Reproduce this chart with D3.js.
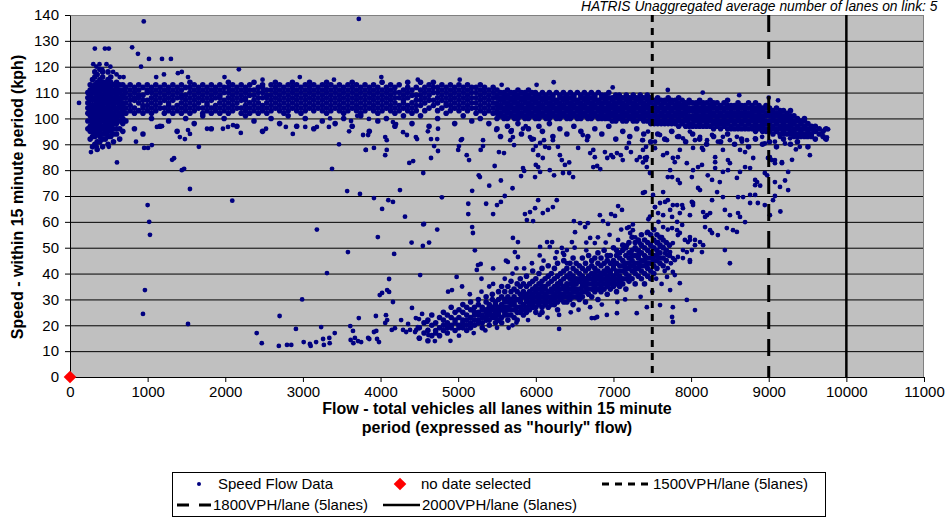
<!DOCTYPE html>
<html><head><meta charset="utf-8">
<script src="https://cdn.jsdelivr.net/npm/d3@7"></script>
<style>body{margin:0;background:#fff}svg{display:block}text{font-family:Arial,"Liberation Sans",sans-serif;fill:#000}</style>
</head><body><svg id="c" width="949" height="519"></svg>
<script>
// ---------- DATA ----------
const xTickValues = [0,1000,2000,3000,4000,5000,6000,7000,8000,9000,10000,11000];
const yTickValues = [0,10,20,30,40,50,60,70,80,90,100,110,120,130,140];
const capacityFlows = [7500, 9000, 10000];
const capacityLabels = ["1500VPH/lane (5lanes)", "1800VPH/lane (5lanes)", "2000VPH/lane (5lanes)"];
const seriesLabels = ["Speed Flow Data", "no date selected"];
const noDatePoint = [[0, 0]];
const headerText = "HATRIS Unaggregated average number of lanes on link: 5";

// free-flow band: [flow, speeds...]
const bandColumns = [
[230,96,99,102,104,106,108,110],[260,92,95,97,99,101,103,105,107,109,111,113],
[290,89,93,95,97,98,100,102,103,105,107,108,110,112,115],
[320,90,93,95,96,98,99,101,102,104,105,107,108,110,111,113,116,118],
[350,88,91,94,95,97,98,100,101,103,104,106,107,109,110,112,114,117],
[385,91,93,95,96,98,99,101,102,104,105,107,108,110,111,113,115,119],
[420,89,92,94,96,97,99,100,102,103,105,106,108,109,111,112,114,116,118],
[455,92,94,95,97,98,100,101,103,104,106,107,109,110,112,114],
[490,90,93,95,96,98,99,101,102,104,105,107,108,110,111,113,115,118],
[525,93,95,97,98,100,101,103,104,106,107,109,110,112,114,116],
[560,91,94,96,98,99,101,102,104,105,107,108,110,111,113],
[600,94,96,98,100,101,103,104,106,107,109,110,112,114],
[640,92,96,99,101,102,104,105,107,108,110,111,113],
[680,95,98,100,102,103,105,106,108,109,111,113],
[720,102,104,106,108,110,112,99],[775,103,105,107,109,111,113],[830,102,104,107,108,110,112,96],
[885,103,106,108,109,111,113],[940,102,104,105,107,109,112,94],[995,103,105,107,110,111,113],
[1050,102,104,106,108,110,112,100],[1105,103,105,107,109,111,113],[1160,104,106,108,110,112,97],
[1215,102,104,107,109,111,113],[1270,103,105,106,108,110,112,99],[1325,102,104,107,109,111,113],
[1380,103,105,108,110,112,95],[1435,102,104,106,108,109,111,113],[1490,103,105,107,109,112,100],
[1545,102,104,106,108,110,112,114],[1600,103,105,107,109,111,113,98],[1655,104,106,108,110,112],
[1710,102,104,107,109,111,113,101],[1765,103,105,106,108,110,112],[1820,102,104,107,109,111,113,96],
[1875,103,105,108,110,112],[1930,102,104,106,108,109,111,113],[1985,103,105,107,110,112,100],
[2040,102,104,106,108,110,112,114],[2095,103,105,107,109,111,113],[2150,104,106,108,110,112,97],
[2205,102,104,107,109,111,113],[2260,103,105,107,108,110,112,101],[2315,102,104,106,109,111,113],
[2370,103,105,107,109,111,114,99],[2425,102,104,106,108,110,112],[2480,103,105,108,110,112,113,95],
[2535,102,104,106,108,109,111],[2590,103,105,107,109,111,113,100],[2645,104,106,108,110,112,114],
[2700,103,105,107,109,111,113,98],[2755,102,104,106,108,110,112],[2810,103,105,107,109,111,113,101],
[2865,104,106,108,110,112,114],[2920,103,105,107,109,111,113,97],[2975,102,104,106,108,110,112],
[3030,103,105,107,109,111,113,100],[3085,104,106,108,110,112,114],[3140,103,105,107,109,111,113,96],
[3195,104,106,108,110,112],[3250,103,105,107,109,111,113,99],[3305,102,104,106,108,110,112,114],
[3360,103,105,107,109,111,113],[3415,104,106,108,110,112,98],[3470,103,105,107,109,111,113],
[3525,102,104,106,108,110,112,100],[3580,103,105,107,109,111,113],[3635,104,106,108,110,112,114,97],
[3690,103,105,107,109,111,113],[3745,102,104,106,108,110,112,101],[3800,103,105,107,109,111,113],
[3855,104,106,108,110,112,95],[3910,103,105,107,109,111,113],[3965,102,104,106,108,110,112,99],
[4020,103,105,107,109,111,114],[4075,104,106,108,110,112,100],[4130,103,105,107,109,111,113],
[4185,102,104,106,108,110,112,97],[4240,103,105,108,110,113],[4295,104,106,107,109,111,101],
[4350,103,105,108,110,112,114],[4405,102,104,106,109,111,98],[4460,103,105,107,109,112],
[4515,105,107,109,111,114,101],[4570,103,106,108,110,112],[4625,104,107,109,111,113,97],
[4680,105,107,110,112,114],[4735,103,106,108,110,112,100],[4790,104,107,109,111,113],
[4845,105,106,108,110,112,102],[4900,103,105,107,109,111,113],[4955,104,106,108,110,112,98],
[5010,103,105,107,109,111,113],[5065,104,106,108,110,112,101],[5120,103,105,107,109,111,113],
[5175,104,106,108,110,112,99],[5230,102,104,106,108,110,112],[5285,103,105,107,109,111,113,100],
[5340,102,104,106,108,110,112],[5395,103,105,107,109,111,98],[5450,102,104,106,108,110,112],
[5500,100,102,103,105,106,108,109,111,96],[5545,101,102,104,105,107,108,110,93],
[5590,100,101,103,104,106,107,109,110],[5635,100,102,103,105,106,108,109,111,97],
[5680,101,102,104,105,107,108,110,95],[5725,100,101,103,104,106,107,109,110],
[5770,100,102,103,105,106,108,109,111,98],[5815,101,102,104,105,107,108,110,94],
[5860,100,101,103,104,106,107,109,110],[5905,100,102,103,105,106,108,109,111,96],
[5950,101,102,104,105,107,108,110,92],[5995,100,101,103,104,106,107,109,110],
[6040,100,102,103,105,106,108,109,97],[6085,101,102,104,105,107,108,110,95],
[6130,100,101,103,104,106,107,109],[6175,100,102,103,105,106,108,110,98],
[6220,101,102,104,105,107,108,109,93],[6265,100,101,103,104,106,107,110],
[6310,100,102,103,105,106,108,109,96],[6355,101,102,104,105,107,108,110],
[6400,100,101,103,104,106,107,109,94],[6445,100,102,103,105,106,108,110],
[6490,101,102,104,105,107,108,109,97],[6535,100,101,103,104,106,107,110],
[6580,100,102,103,105,106,108,109,95],[6625,101,102,104,105,107,108,110],
[6670,100,101,103,104,106,107,109,93],[6715,100,102,103,105,106,108,110],
[6760,101,102,104,105,107,108,109,96],[6805,100,101,103,104,106,107,110],
[6850,100,102,103,105,106,108,109,94],[6895,100,101,103,104,106,107,109],
[6940,100,102,103,105,106,108,110,97],[6985,99,101,102,104,105,107,108],
[7030,99,100,102,103,105,106,108,109,92],[7075,100,101,103,104,106,107,109],
[7120,99,100,102,103,105,106,108,95],[7165,99,101,102,104,105,107,109],
[7210,100,101,103,104,106,107,108,93],[7255,99,100,102,103,105,106,108,109],
[7300,99,101,102,104,105,107,108,96],[7345,100,101,103,104,106,107,109],
[7390,99,100,102,103,105,106,108,94],[7435,99,101,102,104,105,107,109],
[7480,98,100,101,103,104,106,107,108,91],[7525,98,99,101,102,104,105,107],
[7570,98,100,101,103,104,106,107,108,94],[7615,98,99,101,102,104,105,107],
[7660,98,100,101,103,104,106,107,92],[7705,98,99,101,102,104,105,107,108],
[7750,98,100,101,103,104,106,107,95],[7795,98,99,101,102,104,105,107],
[7840,97,99,100,102,103,105,106,108,93],[7885,98,99,101,102,104,105,107],
[7930,97,99,100,102,103,105,106,91],[7975,97,98,100,101,103,104,106,107],
[8020,97,98,100,101,103,104,106,94],[8065,97,99,100,102,103,105,106],
[8110,97,98,100,101,103,104,106,107,92],[8155,97,99,100,102,103,105,106],
[8200,97,98,100,101,103,104,106,90],[8245,97,99,100,102,103,105,107],
[8290,96,98,99,101,102,104,105,106,93],[8335,97,98,100,101,103,104,106],
[8380,96,98,99,101,102,104,105,91],[8425,97,98,100,101,103,104,106],
[8470,96,98,99,101,102,104,105,107,94],[8515,96,97,99,100,102,103,105],
[8560,96,98,99,101,102,104,105,90],[8605,96,97,99,100,102,103,105,106],
[8650,96,98,99,101,102,104,105,92],[8695,96,97,99,100,102,103,105],
[8740,96,98,99,101,102,104,106,89],[8785,96,97,99,100,102,103,105],
[8830,95,97,98,100,101,103,104,106,92],[8875,96,97,99,100,102,103,105],
[8920,95,97,98,100,101,103,104,90],[8965,95,96,98,99,101,102,104,105],
[9010,95,96,98,99,101,102,104,91],[9055,94,96,97,99,100,102,103],
[9100,95,96,98,99,101,102,104,89],[9145,94,96,97,99,100,102,103],
[9190,94,95,97,98,100,101,103,92],[9235,94,96,97,99,100,102],
[9280,94,95,97,98,100,101,103,90],[9325,93,95,96,98,99,101],
[9370,93,94,96,97,99,100,91],[9415,93,95,96,98,99],[9460,93,94,96,97,99,100],
[9505,93,95,96,98,89],[9550,93,94,96,97],[9600,92,95,97],[9650,94,96],[9700,95,93],[9740,96,92]
];

// congested branch: [flow, speeds...]
const jamColumns = [
[4500,15,19],[4560,17,21],[4610,14,18,22],[4660,16,20,24],[4710,18,21,17],[4760,16,19,23],
[4810,18,22,20,25],[4860,17,21,24,19],[4910,19,23,20,27],[4960,18,21,25,22],[5010,20,23,19,26],
[5060,19,22,25,28,21],[5110,20,24,22,27,18],[5160,21,23,26,19,29],[5210,20,24,27,22,25],
[5260,22,25,21,28,24,30],[5310,21,24,27,23,26,19],[5360,23,26,22,29,25,31],[5400,22,25,28,24,27,20],
[5440,24,27,23,30,26,32],[5480,23,26,29,25,28,21],
[5520,22,25,27,30,33,24],[5560,23,26,28,31,21,35],[5600,25,27,30,24,33,29],[5640,22,26,29,31,27,35,24],
[5680,24,28,30,26,33,37],[5720,26,29,23,31,34,28],[5760,25,27,30,33,36,22],[5800,27,29,32,25,35,30,38],
[5840,24,28,31,33,26,36],[5880,27,30,32,35,29,25,39],[5920,26,29,33,31,36,28],[5960,28,30,34,27,37,32,41],
[6000,25,29,31,35,33,38,27],[6040,28,32,30,36,34,40],[6080,27,31,33,29,37,35,42,25],[6120,30,32,35,28,38,34],
[6160,29,33,31,36,39,27,43],[6200,31,34,30,37,33,40,28],[6240,28,32,35,38,30,34,42],[6280,31,33,36,29,39,35,44,26],
[6320,30,34,37,32,40,36],[6360,32,35,31,38,34,41,29,45],[6400,29,33,36,39,35,42,31],[6440,32,34,38,36,40,30,44],
[6480,33,37,35,39,31,42,46,28],[6520,31,34,38,36,41,33,44],[6560,34,37,32,40,38,43,30],[6600,33,36,39,35,42,31,46,38],
[6640,35,38,33,41,37,44,29],[6680,32,36,39,42,34,38,47],[6720,36,34,40,38,43,31,45],[6760,35,39,37,42,33,46,40],
[6800,34,38,41,36,44,39,48,30],[6840,37,40,35,43,39,46,33],[6880,36,41,38,44,34,40,49],[6920,39,37,42,45,35,41,47,32],
[6960,38,41,36,44,40,47,34],[7000,37,42,39,45,35,43,50],[7040,40,38,44,41,47,36,49,33],[7080,39,43,37,46,41,48,35],
[7120,41,38,45,43,49,36,51],[7160,40,44,42,47,38,50,34],[7200,42,39,46,44,48,37,52],[7240,41,45,43,49,38,47,54],
[7280,44,40,47,42,50,36,52],[7320,42,46,44,49,39,53,47],[7360,45,41,48,43,51,38,55],[7400,43,47,45,50,40,53,36],
[7440,46,42,49,44,52,39,56],[7480,44,48,46,51,41,55,38],[7520,47,43,50,45,53,40,57],[7560,45,49,47,52,42,55],
[7600,48,44,51,46,54],[7640,46,50,43,53],[7680,49,45,52],[7720,47,51]
];

// individually read points [flow, speed]
const scatterPoints = [
[116,106],[950,137.5],[3720,138.5],[320,127],[450,127],[500,127],[800,127.5],[875,125],[915,120],[1017,123],[1185,123],[1300,123],
[1390,117.5],[1440,118],[2175,119],[300,121],[340,120],[380,121],[415,119],[470,121],[520,120],[555,118],[600,117],[640,116],
[690,116],[1110,116],[1210,117],[1520,116],[1990,116],[2480,115],[2960,116],[3400,115],[4010,116],[4480,115],[5020,115],
[5560,113],[6010,113],[6230,114],[6990,112],[7700,111],[8150,110],[8620,109],[9000,108],[9120,107],
[270,87],[345,89],[500,89],[605,83],[850,91],[955,88.6],[1005,88.6],[1055,89.7],[1120,96.7],[1185,97],[1315,84],[1340,84.6],
[1415,92.8],[1480,92],[1520,95.5],[1545,94],[1660,89],[1765,96],[1970,96],[2035,96.7],[2100,97.4],[2200,94.4],[2525,96],
[2780,96.7],[2870,94],[3030,96.7],[3180,96.7],[3335,96.7],[3465,90],[3595,95],[3620,99],[1470,80.5],[3375,80.5],
[1000,66.5],[1020,60],[1030,55],[965,33.6],[940,24.4],[1520,20.5],[1545,72.7],[1440,80],[2090,68.2],
[3775,93.6],[3840,93.6],[3810,87.8],[3915,88.6],[3850,99.8],[4060,92.8],[4080,91.6],[4060,85.8],[4080,87.8],[4290,94.7],
[4340,93.6],[4160,98.6],[4200,97.8],[4370,82.8],[4420,83.5],[4455,92.8],[4470,92],[4550,78.9],[4610,95],[4650,92],[4730,92],
[4740,96],[4650,84.7],[4690,89.3],[4740,87.4],[5000,87.8],[5035,91.6],[5050,92],[5010,89.3],[5110,85.8],[5140,83.9],[5320,91.6],
[5320,89.3],[5290,87.8],[5280,77.3],[5265,78],[5490,95.5],[5470,81.6],[5525,87],[5590,86.6],[5690,95.5],[5705,92.8],[5670,91.6],
[5720,89.7],[5835,80.8],[5850,79.7],[5810,77.7],[5835,96],[5870,97],[5900,96],[5925,92.8],[5975,92],[6000,89.3],[6055,90.5],
[6105,91.6],[5965,87.8],[6030,85.8],[6090,84.7],[6000,82],[6030,81.2],[6055,79.3],[5990,77.3],[6120,89],[6170,88.6],[6220,91.6],
[6180,80],[6235,78],[6285,89],[6310,85.8],[6335,83.9],[6375,82],[6430,83],[6350,78.9],[6430,78.9],[6480,77.3],[6545,88.6],
[6605,93.6],[6660,91.6],[6700,86.6],[6740,87.8],[6760,85],[6740,81.2],[6790,81.6],[6830,80.4],[6890,87],[6920,84.7],[6970,85.8],
[6995,85],[7045,86.6],[7095,85.8],[7120,83.9],[7170,88.6],[7200,90.5],[7225,87],[7370,91.6],[7380,87.8],[7420,89],[7300,83.9],
[7340,85],[7405,84.7],[7430,81.2],[7380,83],
[7380,91.6],[7445,94.9],[7535,91],[7600,93.6],[7690,91.6],[7755,94.9],[7820,92.9],[7895,92.3],[7985,94.9],[8050,91.6],[8115,92.9],
[8205,91.6],[8270,93.6],[8345,91],[8410,92.9],[8500,91.6],[8590,92.9],[8655,91],[8720,91.6],[8825,92.3],[8915,92.9],[8950,90.3],
[9080,91],[9145,92.9],[9210,90.3],[9275,92.3],[9310,94.2],[9365,91],[9400,89],[9490,92.9],[9530,85.8],[9570,95.5],[9725,95.8],
[9765,95.8],[9725,92.2],[9750,92.7],
[7430,85],[7535,88.5],[7640,85.8],[7690,86.6],[7765,84.7],[7790,83.1],[7855,87.8],[7830,85],[8025,88.6],[8140,88.6],[8155,87.8],
[8310,85],[8310,83.1],[8410,87.8],[8475,83.9],[8500,82.7],[8630,87.8],[8695,87],[8800,84.7],[9015,85],[9040,83.9],[9080,82.7],
[9170,82.7],[9250,79.3],[7420,83.9],[7470,78.9],[7405,71.5],[7730,80],[7755,77.3],[7700,77.3],[7830,76.2],[7855,75],[7945,82.7],
[8010,77.3],[8025,80],[8090,81.2],[8140,82],[8215,78],[8270,76.2],[8310,80.8],[8370,75.4],[8410,79.3],[8475,80],[8590,77],
[8630,79.3],[8695,81.2],[8760,80.8],[8825,76.2],[8850,75.4],[8825,74.2],[8950,78.9],[8980,78],[9080,75.4],[9145,73.5],[9250,72.3],
[8990,84.7],[9080,83.9],[9170,83.1],
[7380,71.2],[7510,70.4],[7640,71.5],[7600,67.3],[7665,67.7],[7700,68.4],[7765,66.5],[7820,66.5],[7885,66.5],[7535,65.7],[7575,63.4],
[7640,62.6],[7755,61.9],[7855,63.4],[8010,67.7],[8025,66.5],[8090,73.1],[8115,72.3],[8155,63.8],[8205,62.6],[8245,63.4],[8180,61.9],
[8270,68.4],[8335,71.5],[8410,69.6],[8435,64.6],[8500,62.6],[8605,63.4],[8630,61.9],[8605,69.6],[8670,69.6],[8760,70.4],[8825,70.4],
[8860,67.3],[8760,67.3],[8695,59.9],[9055,68.4],
[7855,55.7],[7920,53],[7960,52.2],[7985,54.1],[8050,53],[7945,48.3],[8010,49.1],[7895,46],[7985,45.2],[8115,52.2],[8140,48.3],
[8155,51],[8180,58],[8245,56.8],[8270,55.7],[8345,54.9],[8460,57.6],[8540,56.8],[8590,56.1],[8435,49.1],[8500,44],[7730,48.3],
[7665,47.9],[7765,46],[7790,45.2],[7700,42.1],[7790,39.4],[7600,50.3],[7575,52.2],[7625,54.1],[7755,57.6],[7820,56.8],[7830,54.9],
[7885,58.8],[9015,62.6],[8950,66.5],[8890,74],[9080,70],[9210,76],[9150,64],[9300,84],[9350,88],
[4315,62],[4550,59],[4730,57],[4400,52],[4545,50.7],[4625,52],[5130,67],[5130,63],[5180,58],[5190,55.7],[5360,67],[5450,63],
[5500,66.5],[5550,67.7],[5215,49],[5240,41.4],[5255,43.3],[5290,43.7],[5615,45],[5640,44.5],[5770,46.4],[5705,53.8],[5730,48.3],
[5770,52.2],[5860,63],[5925,63.8],[5885,60.7],[5990,65.3],[5965,60.3],[6030,68.4],[6090,63.4],[6155,64.6],[6220,65.7],[6270,68.4],
[6055,50.3],[6145,52.2],[6180,50.3],[6210,52.2],[6270,48.3],[6335,49.9],[6365,47.2],[6400,49.1],[6465,52.2],[6490,60.3],[6570,59.5],
[6635,58],[6505,56],[6670,59.5],[6700,53.8],[6760,51.8],[6825,62.6],[6865,60.3],[6930,59.2],[6970,63],[7020,62.3],[7060,66.1],
[7110,64.6],[7175,57.6],[7215,55.7],[7250,56.8],[7060,53],[7120,49],[7175,51],[7280,54],[7300,49],[7340,51.8],[7430,55.7],[7470,48],
[7560,51.8],[7470,62],[7535,65.7],[7640,58],[7730,64.6],[7820,60],[7895,65.3],[7985,62.6],[8025,67.3],[7640,50.3],[7690,47.2],
[7765,51.8],[7830,46.4],[7895,49.1],[7985,53],[8050,51],[7690,38.7],[7765,40.6],[7855,36.3],[7730,33.6],[7985,44.5],[7945,29.8],
[7755,23.2],[8050,25.9],[6760,22.8],[6915,24],[7045,24.7],[7300,24.7],[7430,27],[7600,27.8],[7765,27],[6300,18.6],[6720,22.8],
[6790,23.2],[7765,21.3],[4980,38.7],[4920,33.6],[5050,35],[5150,32],[5300,38],[5400,35],[5450,42],[5180,72],[5400,74],[5600,70],
[5700,73],[5550,76],[5010,16],[5200,17],[5500,19],[5700,20],[4900,14],
[5300,33],[5350,18],[5450,36],[5500,22],[5600,38],[5650,19],[5700,40],[5750,21],[5850,42],[5900,22],[5950,44],[6050,24],[6100,45],
[6150,23],[6250,46],[6300,24],[6350,48],[6450,25],[6500,50],[6550,26],[6650,52],[6700,27],[6800,54],[6850,28],[6950,55],[7050,29],
[7100,57],[7150,30],[7250,59],[7350,31],[7450,61],[7500,33],[7550,38],[7580,60],[7620,36],[7660,41],[7700,57],[7740,44],[5750,42],
[6050,47],[6400,44],[6650,49],[6900,52],[7200,58],
[2405,17],[2470,13.1],[2690,12],[2795,12.4],[2850,12.4],[3010,13.5],[3090,12.8],[3100,12],[3170,13.5],[3260,14.7],[3270,12.4],
[3340,15.1],[3345,13.1],[3410,17],[2910,18.6],[3235,19.3],[3610,19.7],[3645,17.8],[3615,14.3],[3650,13.1],[3710,13.9],[3750,13.5],
[3670,15.1],[3840,15.1],[3855,14.7],[3955,14.7],[3980,13.5],[3720,22.8],[3940,23.6],[3915,17.4],[3945,17.8],[4060,20.9],[4085,22],
[4070,23.9],[4145,18.2],[4185,18.9],[4265,22],[4290,18.2],[4330,17.4],[4380,18.2],[4445,17.4],[4460,18.2],[4480,19.3],[4405,26.7],
[4355,20.5],[4455,22.8],[4495,22.4],[4535,24.4],[4495,15.1],[4610,18.2],[4615,16.2],[4700,13.9],[4600,21.3],[2700,23.6],[2990,30],
[3310,40.2],[3580,48.3],[3180,57],[3570,71.9],[3735,70.8],[3915,69.2],[4020,65],[4100,68.4],[4160,67.7],[4250,72.3],[3965,54.1],
[4175,47.6],[4110,37.9],[3990,31.7],[4020,32.5],[4085,33.6],[4110,32.9],[4160,29],[4510,39.4],[4560,59.2],[4790,69.5],[4870,33],
[3810,87.8],[3350,100],[3700,101]
];

// ---------- CHART ----------
const svg = d3.select("#c");
const x = d3.scaleLinear().domain([0, 11000]).range([70, 924]);
const y = d3.scaleLinear().domain([0, 140]).range([377, 15]);
const navy = "#000080";

svg.append("rect").attr("x", x(0)).attr("y", y(140)).attr("width", x(11000) - x(0)).attr("height", y(0) - y(140))
  .attr("fill", "#c0c0c0");

svg.append("g").selectAll("line").data(yTickValues.filter(v => v > 0 && v < 140)).join("line")
  .attr("x1", x(0)).attr("x2", x(11000)).attr("y1", d => y(d) + 0.5).attr("y2", d => y(d) + 0.5)
  .attr("stroke", "#000").attr("stroke-width", 1);

svg.append("rect").attr("x", x(0) + 0.5).attr("y", y(140) + 0.5).attr("width", x(11000) - x(0) - 1).attr("height", y(0) - y(140))
  .attr("fill", "none").attr("stroke", "#808080").attr("stroke-width", 1);

// points: dense columns and individual points
const densePts = [];
bandColumns.forEach(c => c.slice(1).forEach(s => densePts.push([c[0], s])));
jamColumns.forEach(c => c.slice(1).forEach(s => densePts.push([c[0], s])));
const gp = svg.append("g");
gp.selectAll("circle.d").data(densePts).join("circle").attr("class", "d")
  .attr("cx", d => x(d[0])).attr("cy", d => y(d[1])).attr("r", 2.8).attr("fill", navy);
gp.selectAll("circle.s").data(scatterPoints).join("circle").attr("class", "s")
  .attr("cx", d => x(d[0])).attr("cy", d => y(d[1])).attr("r", 2.4).attr("fill", navy);

// capacity lines
const capStyles = [{dash: "7,6", w: 3}, {dash: "17,10", w: 3}, {dash: null, w: 2.5}];
svg.append("g").selectAll("line").data(capacityFlows).join("line")
  .attr("x1", d => x(d)).attr("x2", d => x(d)).attr("y1", y(140)).attr("y2", y(0))
  .attr("stroke", "#000").attr("stroke-width", (d, i) => capStyles[i].w)
  .attr("stroke-dasharray", (d, i) => capStyles[i].dash);

// axes
const yAxis = d3.axisLeft(y).tickValues(yTickValues).tickSize(5).tickSizeOuter(0).tickPadding(6).tickFormat(d3.format("d"));
const gy = svg.append("g").attr("transform", `translate(${x(0)},0)`).call(yAxis);
const xAxis = d3.axisBottom(x).tickValues(xTickValues).tickSize(5).tickSizeOuter(0).tickPadding(4).tickFormat(d3.format("d"));
const gx = svg.append("g").attr("transform", `translate(0,${y(0)})`).call(xAxis);
[gx, gy].forEach(g => {
  g.selectAll("path").attr("stroke", "#000");
  g.selectAll("line").attr("stroke", "#000");
  g.selectAll("text").style("font-size", "15px").style("font-family", "Arial, 'Liberation Sans', sans-serif");
});

// no-date marker
const diamond = d3.symbol().type(d3.symbolSquare).size(80);
svg.append("g").selectAll("path").data(noDatePoint).join("path")
  .attr("d", diamond).attr("transform", d => `translate(${x(d[0])},${y(d[1])}) rotate(45)`).attr("fill", "#ff0000");

// titles
svg.append("text").attr("transform", "translate(23,197) rotate(-90)").attr("text-anchor", "middle")
  .style("font-size", "16px").style("font-weight", "bold").text("Speed - within 15 minute period (kph)");
svg.append("text").attr("x", 497).attr("y", 414).attr("text-anchor", "middle")
  .style("font-size", "16px").style("font-weight", "bold").text("Flow - total vehicles all lanes within 15 minute");
svg.append("text").attr("x", 497).attr("y", 433).attr("text-anchor", "middle")
  .style("font-size", "16px").style("font-weight", "bold").text('period (expressed as "hourly" flow)');
svg.append("text").attr("x", 581).attr("y", 11).style("font-size", "13.8px").style("font-style", "italic").text(headerText);

// legend
const lg = svg.append("g");
lg.append("rect").attr("x", 172.5).attr("y", 472.5).attr("width", 653).attr("height", 44).attr("fill", "#fff").attr("stroke", "#000");
const fs = "15px";
lg.append("circle").attr("cx", 199).attr("cy", 484).attr("r", 2).attr("fill", navy);
lg.append("text").attr("x", 218).attr("y", 489).style("font-size", fs).text(seriesLabels[0]);
lg.append("path").attr("d", diamond).attr("transform", "translate(400,484) rotate(45)").attr("fill", "#ff0000");
lg.append("text").attr("x", 421).attr("y", 489).style("font-size", fs).text(seriesLabels[1]);
lg.append("line").attr("x1", 602).attr("x2", 650).attr("y1", 484).attr("y2", 484).attr("stroke", "#000").attr("stroke-width", 3).attr("stroke-dasharray", "7,6");
lg.append("text").attr("x", 653).attr("y", 489).style("font-size", fs).text(capacityLabels[0]);
lg.append("line").attr("x1", 177).attr("x2", 211).attr("y1", 505).attr("y2", 505).attr("stroke", "#000").attr("stroke-width", 3).attr("stroke-dasharray", "12,10");
lg.append("text").attr("x", 213).attr("y", 510).style("font-size", fs).text(capacityLabels[1]);
lg.append("line").attr("x1", 383).attr("x2", 420).attr("y1", 505).attr("y2", 505).attr("stroke", "#000").attr("stroke-width", 2.5);
lg.append("text").attr("x", 422).attr("y", 510).style("font-size", fs).text(capacityLabels[2]);
</script></body></html>
